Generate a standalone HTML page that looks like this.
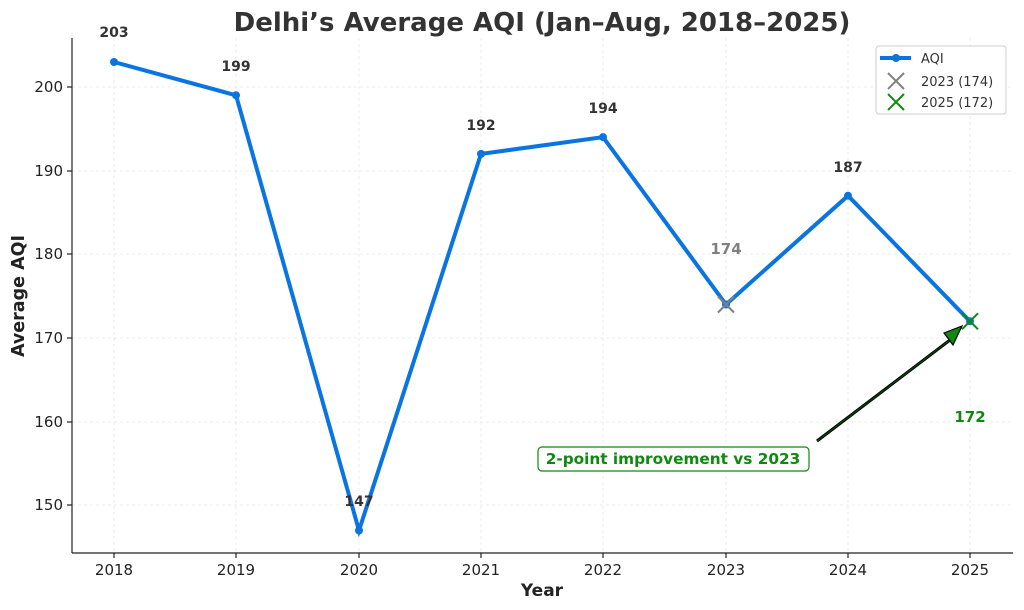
<!DOCTYPE html>
<html><head><meta charset="utf-8"><style>body{margin:0;background:#fff}svg{display:block;font-family:"DejaVu Sans","Liberation Sans",sans-serif}</style></head>
<body>
<svg width="1024" height="610" viewBox="0 0 1024 610">
<rect width="1024" height="610" fill="#fff"/>
<g stroke="#e6e6e6" stroke-width="0.8" stroke-dasharray="3,3">
<line x1="114" y1="38" x2="114" y2="553"/><line x1="236" y1="38" x2="236" y2="553"/><line x1="359" y1="38" x2="359" y2="553"/><line x1="481" y1="38" x2="481" y2="553"/><line x1="603" y1="38" x2="603" y2="553"/><line x1="726" y1="38" x2="726" y2="553"/><line x1="848" y1="38" x2="848" y2="553"/><line x1="970" y1="38" x2="970" y2="553"/>
<line x1="72" y1="87" x2="1013" y2="87"/><line x1="72" y1="171" x2="1013" y2="171"/><line x1="72" y1="254" x2="1013" y2="254"/><line x1="72" y1="338" x2="1013" y2="338"/><line x1="72" y1="422" x2="1013" y2="422"/><line x1="72" y1="505" x2="1013" y2="505"/>
</g>
<g stroke="#222" stroke-width="1.2"><line x1="72" y1="38" x2="72" y2="553"/><line x1="72" y1="553" x2="1013" y2="553"/>
<line x1="114" y1="553" x2="114" y2="558"/><line x1="236" y1="553" x2="236" y2="558"/><line x1="359" y1="553" x2="359" y2="558"/><line x1="481" y1="553" x2="481" y2="558"/><line x1="603" y1="553" x2="603" y2="558"/><line x1="726" y1="553" x2="726" y2="558"/><line x1="848" y1="553" x2="848" y2="558"/><line x1="970" y1="553" x2="970" y2="558"/>
<line x1="67" y1="87" x2="72" y2="87"/><line x1="67" y1="171" x2="72" y2="171"/><line x1="67" y1="254" x2="72" y2="254"/><line x1="67" y1="338" x2="72" y2="338"/><line x1="67" y1="422" x2="72" y2="422"/><line x1="67" y1="505" x2="72" y2="505"/></g>
<g font-size="15" fill="#222" text-anchor="middle">
<text x="114" y="575">2018</text><text x="236" y="575">2019</text><text x="359" y="575">2020</text><text x="481" y="575">2021</text><text x="603" y="575">2022</text><text x="726" y="575">2023</text><text x="848" y="575">2024</text><text x="970" y="575">2025</text></g>
<g font-size="15" fill="#222" text-anchor="end">
<text x="63" y="92">200</text><text x="63" y="176">190</text><text x="63" y="259">180</text><text x="63" y="343">170</text><text x="63" y="427">160</text><text x="63" y="510">150</text></g>
<text x="542" y="596" font-size="17" font-weight="bold" fill="#222" text-anchor="middle">Year</text>
<text transform="translate(24,296) rotate(-90)" font-size="17.5" font-weight="bold" fill="#222" text-anchor="middle">Average AQI</text>
<text x="542" y="31" font-size="26" font-weight="bold" fill="#333" text-anchor="middle">Delhi’s Average AQI (Jan–Aug, 2018–2025)</text>
<polyline points="114,62 236,95.3 359,530.5 481,153.9 603,137.1 726,304.5 848,195.7 970,321.3" fill="none" stroke="#0a74e0" stroke-width="4" stroke-linejoin="miter"/>
<g fill="#0a74e0"><circle cx="114" cy="62" r="4"/><circle cx="236" cy="95.3" r="4"/><circle cx="359" cy="530.5" r="4"/><circle cx="481" cy="153.9" r="4"/><circle cx="603" cy="137.1" r="4"/><circle cx="726" cy="304.5" r="4"/><circle cx="848" cy="195.7" r="4"/><circle cx="970" cy="321.3" r="4"/></g>
<g stroke="#808080" stroke-width="2"><line x1="718" y1="296.5" x2="734" y2="312.5"/><line x1="734" y1="296.5" x2="718" y2="312.5"/></g>
<g stroke="#118811" stroke-width="2"><line x1="962" y1="313.3" x2="978" y2="329.3"/><line x1="978" y1="313.3" x2="962" y2="329.3"/></g>
<g font-size="14" font-weight="bold" fill="#333" text-anchor="middle">
<text x="114" y="37">203</text><text x="236" y="71">199</text><text x="359" y="506">147</text><text x="481" y="130">192</text><text x="603" y="113">194</text><text x="848" y="172">187</text></g>
<text x="726" y="254" font-size="15" font-weight="bold" fill="#808080" text-anchor="middle">174</text>
<text x="970" y="422" font-size="15" font-weight="bold" fill="#118811" text-anchor="middle">172</text>
<line x1="817" y1="441" x2="950" y2="340" stroke="#000" stroke-width="3"/>
<line x1="817" y1="441" x2="950" y2="340" stroke="#0a3a0a" stroke-width="1.5"/>
<polygon points="962,326 944,333 953,345" fill="#118811" stroke="#000" stroke-width="1.2"/>
<rect x="538" y="447" width="271" height="24" rx="4" fill="#fff" stroke="#118811" stroke-width="1.2"/>
<text x="673" y="464" font-size="15.3" font-weight="bold" fill="#118811" text-anchor="middle">2-point improvement vs 2023</text>
<rect x="876" y="46" width="130" height="68" rx="3" fill="#fff" fill-opacity="0.85" stroke="#ccc"/>
<line x1="880" y1="58" x2="911" y2="58" stroke="#0a74e0" stroke-width="4"/><circle cx="896" cy="58" r="4" fill="#0a74e0"/>
<text x="921" y="63" font-size="13" fill="#333">AQI</text>
<g stroke="#808080" stroke-width="2"><line x1="888" y1="73" x2="904" y2="89"/><line x1="904" y1="73" x2="888" y2="89"/></g>
<text x="921" y="86" font-size="13" fill="#333">2023 (174)</text>
<g stroke="#118811" stroke-width="2"><line x1="888" y1="94" x2="904" y2="110"/><line x1="904" y1="94" x2="888" y2="110"/></g>
<text x="921" y="107" font-size="13" fill="#333">2025 (172)</text>
</svg>
</body></html>
